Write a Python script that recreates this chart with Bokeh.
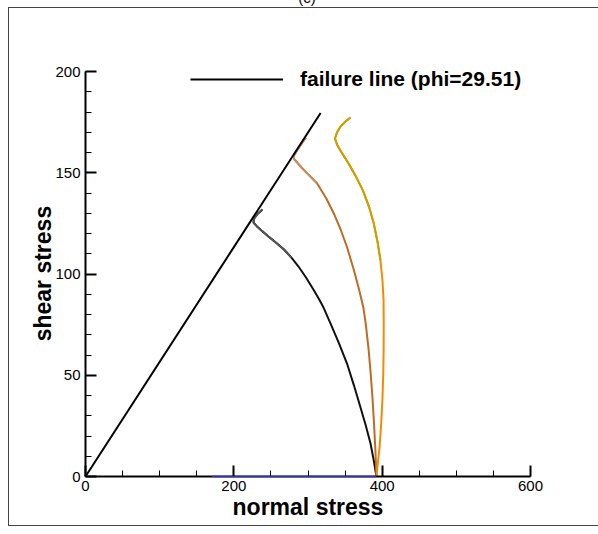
from bokeh.plotting import figure
from bokeh.models import (Range1d, SingleIntervalTicker, Legend, LegendItem,
                          InlineStyleSheet)
from bokeh.embed import file_html
from bokeh.resources import INLINE

# ---------------- data ----------------
x_ticks_interval = 200
y_ticks_interval = 50
legend_text = "failure line (phi=29.51)"
panel_tag = "(c)"
x_title = "normal stress"
y_title = "shear stress"

failure_sigma = [0, 317]
failure_tau = [0, 179.5]

path1_sigma = [392.3, 388.7, 384.3, 377.9, 370.8, 362.0, 352.6, 341.8, 330.3, 320.2, 315.9, 308.1,
               297.3, 287.2, 277.7, 267.6, 258.2, 246.7, 237.3, 231.2, 226.5, 227.2, 232.6, 238.6]
path1_tau = [0, 7.9, 16.3, 25.2, 34.1, 44.9, 55.8, 65.7, 75.6, 84.0, 86.9, 91.9,
             98.3, 103.7, 108.1, 112.1, 115.1, 118.5, 121.5, 123.5, 125.4, 127.4, 129.9, 131.9]

path2_sigma = [392.3, 390.9, 389.0, 387.0, 384.5, 381.6, 377.8, 374.6, 369.2, 362.0, 352.8, 344.5,
               334.8, 324.7, 312.4, 302.0, 291.2, 285.2, 281.1, 281.1, 285.2, 290.6, 297.3]
path2_tau = [0, 12.8, 26.2, 38.5, 50.9, 63.2, 75.6, 83.5, 91.9, 101.7, 113.1, 121.5,
             129.9, 137.3, 144.7, 148.6, 152.6, 155.1, 156.8, 158.5, 161.0, 164.0, 167.4]

path3_sigma = [392.3, 394.1, 396.7, 398.7, 400.4, 401.5, 402.0, 402.1, 401.9, 400.4, 397.7, 393.7,
               388.7, 382.2, 374.1, 364.7, 353.9, 344.5, 339.1, 336.4, 339.1, 343.8, 350.5, 357.3]
path3_tau = [0, 6.4, 15.3, 26.2, 38.5, 50.9, 63.2, 75.6, 86.9, 96.8, 106.7, 116.0,
             124.9, 133.3, 141.2, 148.1, 155.1, 160.5, 164.0, 166.9, 169.9, 172.8, 175.3, 177.3]

base_sigma = [170, 392]
base_tau = [0, 0]

FONT = "Liberation Sans"

frame_css = InlineStyleSheet(css="""
:host { position: relative; overflow: hidden; }
:host::after {
  content: ""; position: absolute; left: 8px; top: 7px;
  width: 640px; height: 519px; border: 1.5px solid #444444;
  pointer-events: none; box-sizing: border-box;
}
:host::before {
  content: "%s"; position: absolute; left: 295px; top: -11px;
  width: 24px; text-align: center; line-height: 17px;
  font-family: "Liberation Sans", Arial, sans-serif; font-size: 15px;
  color: black; pointer-events: none; z-index: 5;
}
""" % panel_tag)

# frame extends a little above 200 so the legend text is not clipped;
# the y axis itself is bounded to 0..200
p = figure(width=598, height=534, output_backend="svg", toolbar_location=None,
           x_range=Range1d(0, 600), y_range=Range1d(0, 209.88),
           min_border_left=85, min_border_right=68, min_border_top=51,
           min_border_bottom=58, background_fill_color="white",
           border_fill_color="white", stylesheets=[frame_css])
p.outline_line_color = None
p.grid.visible = False

for ax in (p.xaxis[0], p.yaxis[0]):
    ax.axis_line_width = 2
    ax.axis_line_color = "black"
    ax.major_tick_in = 11
    ax.major_tick_out = 0
    ax.minor_tick_in = 6
    ax.minor_tick_out = 0
    ax.major_tick_line_width = 2
    ax.minor_tick_line_width = 1
    ax.major_tick_line_color = "black"
    ax.minor_tick_line_color = "black"
    ax.major_label_text_font = FONT
    ax.major_label_text_font_size = "15px"
    ax.major_label_text_color = "black"
    ax.axis_label_text_font = FONT
    ax.axis_label_text_font_style = "bold"
    ax.axis_label_text_font_size = "23px"
    ax.axis_label_text_color = "black"

p.xaxis[0].ticker = SingleIntervalTicker(interval=x_ticks_interval, num_minor_ticks=4)
p.yaxis[0].ticker = SingleIntervalTicker(interval=y_ticks_interval, num_minor_ticks=5)
p.xaxis[0].bounds = (0, 600)
p.yaxis[0].bounds = (0, 200)
p.xaxis[0].axis_label = x_title
# trailing no-break spaces shift the centred title down to the middle of 0..200
p.yaxis[0].axis_label = y_title + "\u00a0\u00a0\u00a0"
p.xaxis[0].axis_label_standoff = 0
p.yaxis[0].axis_label_standoff = -4
p.xaxis[0].major_label_standoff = 4
p.yaxis[0].major_label_standoff = 5

# stress paths
p.line(path1_sigma, path1_tau, line_color="#111111", line_width=2)
p.line(path1_sigma[14:], path1_tau[14:], line_color="#555555", line_width=2)
p.line(path2_sigma, path2_tau, line_color="#bf6b25", line_width=2)
p.line(path2_sigma[14:], path2_tau[14:], line_color="#c98d5f", line_width=2)
p.line(path3_sigma, path3_tau, line_color="#f38b00", line_width=2)
p.line(path3_sigma[10:], path3_tau[10:], line_color="#c8a200", line_width=2)
p.line(base_sigma, base_tau, line_color="#3030c8", line_width=1.5, level="overlay")

fail_r = p.line(failure_sigma, failure_tau, line_color="black", line_width=2)

legend = Legend(items=[LegendItem(label=legend_text, renderers=[fail_r])],
                location=(105, 384), padding=0, margin=0, spacing=0,
                glyph_width=93, glyph_height=26, label_standoff=17,
                label_height=26, label_text_color="black",
                label_text_font=FONT, label_text_font_style="bold",
                label_text_font_size="21px", border_line_color=None,
                background_fill_alpha=0)
p.add_layout(legend)

open("out.html", "w").write(file_html(p, INLINE))
